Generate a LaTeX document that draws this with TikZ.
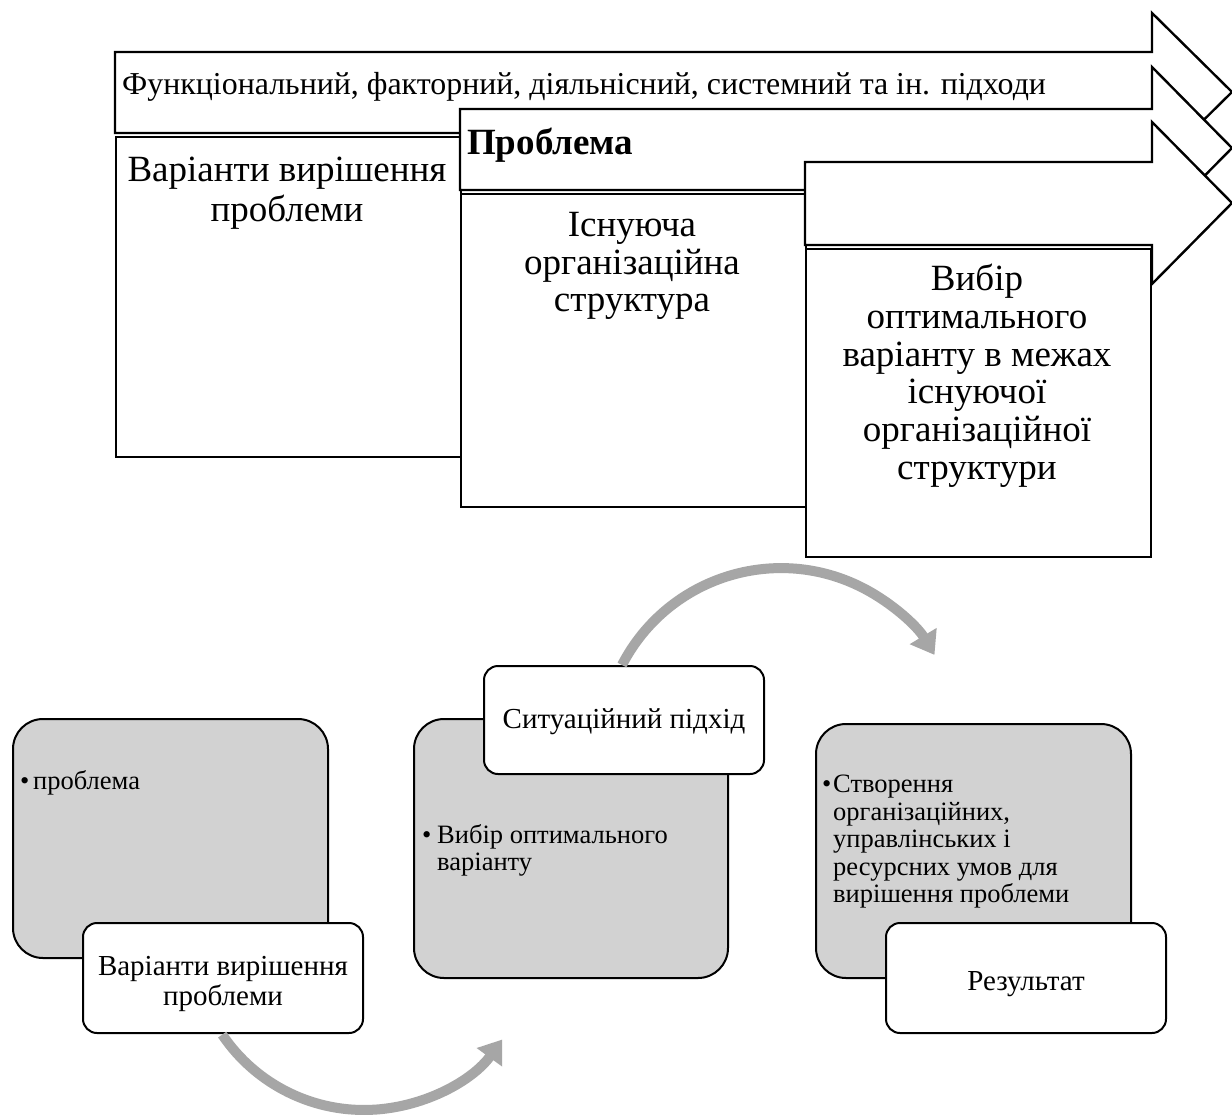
\documentclass[tikz,border=0pt]{standalone}
\usepackage{fontspec}
\setmainfont{Liberation Serif}
\usetikzlibrary{arrows.meta}
\begin{document}
\begin{tikzpicture}[x=1pt,y=-1pt,
  blk/.style={draw=black, line width=2.4pt, fill=white, line join=miter},
  topbox/.style={draw=black, line width=2.4pt, fill=white, anchor=north west, inner sep=0pt},
  toptext/.style={anchor=north, align=center, inner sep=0pt, font=\fontsize{37}{37.7}\selectfont},
  graybox/.style={draw=black, line width=2pt, fill=gray!35, rounded corners=30pt, anchor=north west, inner sep=0pt},
  whitebox/.style={draw=black, line width=2pt, fill=white, rounded corners=14pt, anchor=north west, inner sep=0pt},
  graytext/.style={anchor=north west, align=left, inner sep=0pt, font=\fontsize{26.5}{27.5}\selectfont},
  whitetext/.style={align=center, inner sep=0pt, font=\fontsize{29}{30.5}\selectfont},
  garrow/.style={draw=black!35, line width=10pt, -{Triangle[width=30pt,length=22pt]}}
]
\useasboundingbox (0,0) rectangle (1232,1117);
\fill[white] (0,0) rectangle (1232,1117);

% top section
\draw[blk] (115,52) -- (1152,52) -- (1152,13) -- (1232,92) -- (1152,171) -- (1152,133) -- (115,133) -- cycle;
\node[anchor=west, inner sep=0pt, font=\fontsize{31.9}{34}\selectfont] (a1t) at (122,87) {Функціональний, факторний, діяльнісний, системний та ін. підходи};
\node[topbox, minimum width=345pt, minimum height=320pt] (b1) at (115,136) {};
\node[toptext, font=\fontsize{37}{40}\selectfont] (b1t) at (287,157) {Варіанти вирішення\\проблеми};

\draw[blk] (460,109) -- (1152,109) -- (1152,67) -- (1232,148) -- (1152,229) -- (1152,190) -- (460,190) -- cycle;
\node[anchor=west, inner sep=0pt, font=\bfseries\fontsize{37}{40}\selectfont] (a2t) at (467,145) {Проблема};
\node[topbox, minimum width=345pt, minimum height=313pt] (b2) at (460,193) {};
\node[toptext] (b2t) at (632,212) {Існуюча\\організаційна\\структура};

\draw[blk] (805,162) -- (1152,162) -- (1152,122) -- (1232,203) -- (1152,284) -- (1152,245) -- (805,245) -- cycle;
\node[topbox, minimum width=345pt, minimum height=308pt] (b3) at (805,248) {};
\node[toptext] (b3t) at (977,264) {Вибір\\оптимального\\варіанту в межах\\існуючої\\організаційної\\структури};

% bottom section
\node[graybox, minimum width=315pt, minimum height=239pt] (g1) at (12,718) {};
\node[graytext] (g1t) at (20,770) {\makebox[13pt][l]{•}проблема};
\node[whitebox, minimum width=280pt, minimum height=110pt] (w1) at (82,922) {};
\node[whitetext] (w1t) at ([yshift=-6pt]w1.center) {Варіанти вирішення\\проблеми};

\node[graybox, minimum width=314pt, minimum height=259pt] (g2) at (413,718) {};
\node[graytext] (g2t) at (422,824) {\makebox[15pt][l]{•}Вибір оптимального\\\hspace*{15pt}варіанту};
\node[whitebox, minimum width=280pt, minimum height=108pt] (w2) at (483,665) {};
\node[whitetext] (w2t) at ([yshift=-2pt]w2.center) {Ситуаційний підхід};

\node[graybox, minimum width=315pt, minimum height=254pt] (g3) at (815,723) {};
\node[graytext] (g3t) at (822,775) {\makebox[11pt][l]{•}Створення\\\hspace*{11pt}організаційних,\\\hspace*{11pt}управлінських і\\\hspace*{11pt}ресурсних умов для\\\hspace*{11pt}вирішення проблеми};
\node[whitebox, minimum width=280pt, minimum height=110pt] (w3) at (885,922) {};
\node[whitetext] (w3t) at ([yshift=-6pt]w3.center) {Результат};

% curved arrows
\coordinate (c1s) at (222.2,1034.6);
\coordinate (c2s) at (622,665);
\draw[garrow] (c1s) arc[start angle=146, end angle=36, radius=171];
\draw[garrow] (c2s) arc[start angle=207.3, end angle=329, radius=179];
\end{tikzpicture}
\end{document}
